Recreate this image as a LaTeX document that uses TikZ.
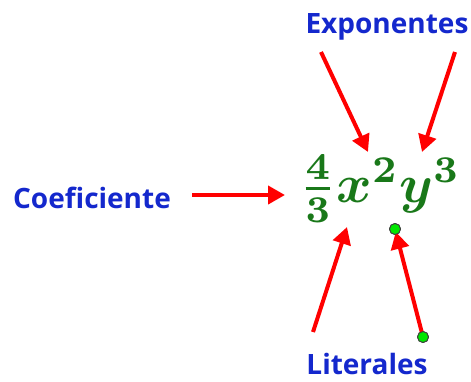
\documentclass[tikz,border=0pt]{standalone}
\usepackage{fontspec}
\usepackage{amsmath}
\usepackage{bm}
\usepackage{graphicx}
\usetikzlibrary{arrows.meta}
\newfontfamily\labfont{Open Sans}
\definecolor{labblue}{RGB}{20,40,205}
\definecolor{exprgreen}{RGB}{25,120,25}
\definecolor{arrred}{RGB}{255,0,0}
\definecolor{dotgreen}{RGB}{0,230,0}
\tikzset{
  lab/.style={font=\labfont\bfseries\fontsize{28}{30}\selectfont, text=labblue, inner sep=0pt, anchor=base},
  redarrow/.style={draw=arrred, line width=4pt, -{Triangle[length=17pt,width=18pt]}},
  gdot/.style={circle, fill=dotgreen, draw=black!75, line width=0.9pt, minimum size=11pt, inner sep=0pt}
}
\begin{document}
\begin{tikzpicture}[x=1pt,y=-1pt]
\useasboundingbox (0,0) rectangle (471,381);
% labels
\node[lab] (exp) at (387,33) {Exponentes};
\node[lab] (coef) at (92,208) {Coeficiente};
\node[lab] (lit) at (367,374) {Literales};
% expression
\node[anchor=base west, inner sep=0pt, text=exprgreen] (expr) at (299,202)
  {\scalebox{5.4}{$\bm{\frac{4}{3}x^{2}y^{3}}$}};
% arrow ends
\coordinate (e1s) at (321,52);
\coordinate (e1t) at (368,152);
\coordinate (e2s) at (455,52);
\coordinate (e2t) at (422,152);
\coordinate (cs) at (192,195);
\coordinate (ct) at (285,195);
\coordinate (l1s) at (313,332);
\coordinate (l1t) at (347,227);
\node[gdot] (d2) at (395,229) {};
\node[gdot] (d1) at (423,337) {};
% arrows
\draw[redarrow] (e1s) -- (e1t);
\draw[redarrow] (e2s) -- (e2t);
\draw[redarrow] (cs) -- (ct);
\draw[redarrow] (l1s) -- (l1t);
\draw[redarrow, shorten <=4pt, shorten >=3pt] (d1.center) -- (d2.center);
\node[gdot] at (d2) {};
\node[gdot] at (d1) {};
\end{tikzpicture}
\end{document}
